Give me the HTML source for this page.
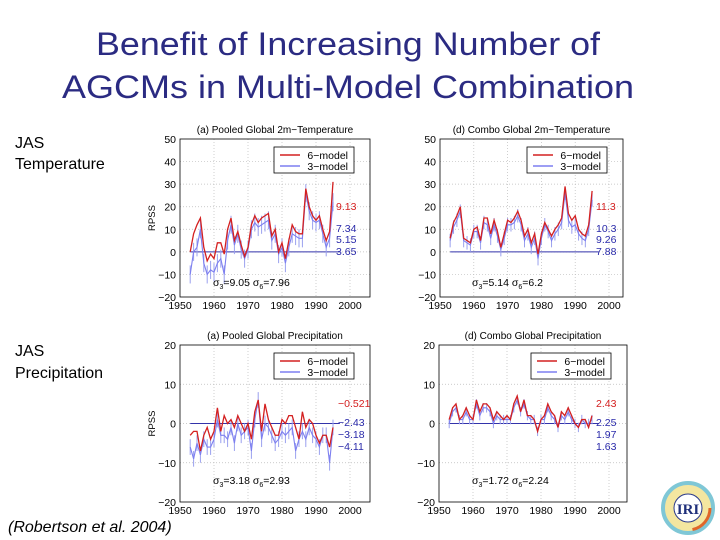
<!DOCTYPE html>
<html><head><meta charset="utf-8"><style>
body{margin:0;background:#fff;}
svg{display:block;font-family:"Liberation Sans",Arial,sans-serif;}
</style></head><body>
<svg id="s" width="720" height="540" viewBox="0 0 720 540">
<text x="348" y="55" font-size="32" fill="#2b2b82" text-anchor="middle" textLength="504" lengthAdjust="spacingAndGlyphs">Benefit of Increasing Number of</text>
<text x="62" y="98" font-size="32" fill="#2b2b82" textLength="572" lengthAdjust="spacingAndGlyphs">AGCMs in Multi-Model Combination</text>
<text x="15" y="148" font-size="16">JAS</text>
<text x="15" y="169" font-size="16">Temperature</text>
<text x="15" y="356" font-size="16">JAS</text>
<text x="15" y="378" font-size="16">Precipitation</text>
<text x="8" y="532" font-size="16" font-style="italic">(Robertson et al. 2004)</text>
<g>
<circle cx="688" cy="508" r="25" fill="#f4e6a0" stroke="#7fc7d6" stroke-width="4"/>
<circle cx="688" cy="508" r="22" fill="none" stroke="#e0662a" stroke-width="3" stroke-dasharray="30 110"/>
<circle cx="688" cy="508" r="14" fill="#fff" stroke="#2b3a8a" stroke-width="1"/>
<text x="688" y="514" font-size="15" font-family="Liberation Serif,serif" font-weight="bold" fill="#1f2f7a" text-anchor="middle">IRI</text>
</g>
</svg>
<script>
const years=[];for(let y=1953;y<=1995;y++)years.push(y);
const xTicks=[1950,1960,1970,1980,1990,2000];
const tempTicks=[-20,-10,0,10,20,30,40,50];
const precTicks=[-20,-10,0,10,20];
const tlRed=[0,8,12,15,2,-4,-1,-3,4,4,-1,10,15,5,9,3,-2,2,12,16,13,15,16,17,7,10,0,4,-3,5,12,9,8,8,28,20,16,14,16,10,5,9,31];
const tlBlue=[-10,0,2,10,-5,-10,-8,-9,-5,-3,-10,5,12,3,8,1,-3,1,10,13,11,12,13,14,5,8,-1,2,-5,2,8,7,6,6,26,18,14,13,14,8,2,6,22];
const trRed=[6,13,16,20,6,5,4,10,11,5,15,15,8,14,9,2,8,14,13,15,18,14,7,10,4,8,-1,8,13,10,7,10,12,15,29,17,14,16,10,8,7,12,27];
const trBlue=[5,11,14,18,5,4,3,9,9,4,13,12,6,12,7,1,6,12,12,13,16,12,5,8,2,6,-3,6,12,9,5,8,10,13,26,14,11,12,8,6,5,10,23];
const blRed=[-3,-2,-2,-7,-3,-1,-4,-2,4,-2,2,0,1,-1,2,0,-2,0,-4,3,6,-2,5,1,-1,-3,-3,1,0,2,2,-1,-4,3,-1,1,0,-3,-5,-3,-3,-6,-1];
const blBlue=[-6,-9,-5,-8,-4,-6,-6,-4,1,-3,-3,-4,-1,-5,0,-3,-2,-1,-7,1,6,-4,0,-1,-3,-5,-4,-2,-3,-2,-1,-7,-4,-2,-4,-1,-3,-4,-6,-3,-3,-10,-1];
const brRed=[1,4,5,1,2,4,2,1,6,3,5,5,4,1,3,2,1,2,1,5,7,3,6,2,2,1,-2,1,2,5,3,2,-1,3,2,4,2,0,-1,1,1,-1,2];
const brBlue=[0,3,4,1,1,3,1,1,5,2,4,4,3,0,2,1,1,1,1,4,6,3,5,2,1,1,-2,1,1,4,2,1,-1,2,1,3,1,0,-1,1,0,0,1];
const tlNotes=["9.13","7.34","5.15","3.65"], trNotes=["11.3","10.3","9.26","7.88"];
const blNotes=["\u22120.521","\u22122.43","\u22123.18","\u22124.11"], brNotes=["2.43","2.25","1.97","1.63"];
const NS="http://www.w3.org/2000/svg";const svg=document.getElementById('s');
function mk(t,a,p){const e=document.createElementNS(NS,t);for(const k in a)e.setAttribute(k,a[k]);(p||svg).appendChild(e);return e;}
function panel(o){
 const g=mk('g',{});
 
 
 const xs=v=>o.x1950+(v-1950)*(o.x2000-o.x1950)/50;
 const ys=v=>o.b-(v-o.ymin)*(o.b-o.t)/(o.ymax-o.ymin);
 const ttl=mk('text',{x:(o.l+o.r)/2,y:o.t-6,'font-size':10,'text-anchor':'middle'},g);ttl.textContent=o.title;
 
 
 xTicks.forEach(v=>{const x=xs(v);if(x>o.l+1&&x<o.r-1)mk('line',{x1:x,x2:x,y1:o.t,y2:o.b,stroke:'#bbb','stroke-width':0.7,'stroke-dasharray':'1,2'},g);
  const t=mk('text',{x:x,y:o.b+12,'font-size':10.5,'text-anchor':'middle'},g);t.textContent=v;
  
  });
 o.ticks.forEach(v=>{const y=ys(v);if(y>o.t+1&&y<o.b-1)mk('line',{x1:o.l,x2:o.r,y1:y,y2:y,stroke:'#bbb','stroke-width':0.7,'stroke-dasharray':'1,2'},g);
  const t=mk('text',{x:o.l-4,y:y+4,'font-size':10.5,'text-anchor':'end'},g);t.textContent=String(v).replace('-','\u2212');
  
  });
 mk('rect',{x:o.l,y:o.t,width:o.r-o.l,height:o.b-o.t,fill:'none',stroke:'#000','stroke-width':0.8},g);
 if(o.ylab){const t=mk('text',{transform:`translate(${o.l-25},${(o.t+o.b)/2}) rotate(-90)`,'font-size':9.5,'text-anchor':'middle'},g);t.textContent='RPSS';
  
  }
 mk('line',{x1:xs(1953),x2:xs(1997),y1:ys(0),y2:ys(0),stroke:'#3333aa','stroke-width':1},g);
 o.blue.forEach((v,i)=>{const x=xs(years[i]);const e=mk('line',{x1:x,x2:x,y1:ys(v-o.err),y2:ys(v+o.err),stroke:'#9aa0ee','stroke-width':1},g);
  
  });
 const pb=mk('polyline',{points:o.blue.map((v,i)=>xs(years[i])+','+ys(v)).join(' '),fill:'none',stroke:'#7d7ff0','stroke-width':1.1},g);
 
 
 const pr=mk('polyline',{points:o.red.map((v,i)=>xs(years[i])+','+ys(v)).join(' '),fill:'none',stroke:'#d42020','stroke-width':1.3},g);
 
 
 const lg=mk('g',{},g);
 
 
 const lx=o.r-96,ly=o.t+8;
 mk('rect',{x:lx,y:ly,width:80,height:26,fill:'#fff',stroke:'#000','stroke-width':0.8},lg);
 mk('line',{x1:lx+6,x2:lx+26,y1:ly+8,y2:ly+8,stroke:'#d42020','stroke-width':1.5},lg);
 mk('line',{x1:lx+6,x2:lx+26,y1:ly+19,y2:ly+19,stroke:'#7d7ff0','stroke-width':1.5},lg);
 let t=mk('text',{x:lx+74,y:ly+12,'font-size':10.5,'text-anchor':'end'},lg);t.textContent='6\u2212model';
 t=mk('text',{x:lx+74,y:ly+23,'font-size':10.5,'text-anchor':'end'},lg);t.textContent='3\u2212model';
 o.notes.forEach((n,i)=>{const t=mk('text',{x:o.nx,y:o.ny[i],'font-size':10.5,fill:i==0?'#d42020':'#2a2aaa'},g);t.textContent=n;
  
  });
 const s=mk('text',{x:o.sx,y:o.sy,'font-size':10.5},g);
 
 
 s.innerHTML=`σ<tspan dy="3" font-size="7">3</tspan><tspan dy="-3">=${o.s3}  σ</tspan><tspan dy="3" font-size="7">6</tspan><tspan dy="-3">=${o.s6}</tspan>`;
}
panel({name:'panel-pooled-temperature',title:'(a) Pooled Global 2m\u2212Temperature',l:180,r:370,t:139,b:297,x1950:180,x2000:350,ymin:-20,ymax:50,ticks:tempTicks,red:tlRed,blue:tlBlue,err:4,notes:tlNotes,nx:336,ny:[210,232,243,255],sx:213,sy:286,s3:'9.05',s6:'7.96',ylab:true});
panel({name:'panel-combo-temperature',title:'(d) Combo Global 2m\u2212Temperature',l:440,r:623,t:139,b:297,x1950:440,x2000:609,ymin:-20,ymax:50,ticks:tempTicks,red:trRed,blue:trBlue,err:3,notes:trNotes,nx:596,ny:[210,232,243,255],sx:472,sy:286,s3:'5.14',s6:'6.2',ylab:false});
panel({name:'panel-pooled-precipitation',title:'(a) Pooled Global Precipitation',l:180,r:370,t:345,b:502,x1950:180,x2000:350,ymin:-20,ymax:20,ticks:precTicks,red:blRed,blue:blBlue,err:2,notes:blNotes,nx:338,ny:[407,426,438,450],sx:213,sy:484,s3:'3.18',s6:'2.93',ylab:true});
panel({name:'panel-combo-precipitation',title:'(d) Combo Global Precipitation',l:439,r:627,t:345,b:502,x1950:439,x2000:609,ymin:-20,ymax:20,ticks:precTicks,red:brRed,blue:brBlue,err:1.2,notes:brNotes,nx:596,ny:[407,426,438,450],sx:472,sy:484,s3:'1.72',s6:'2.24',ylab:false});
</script>
</body></html>
